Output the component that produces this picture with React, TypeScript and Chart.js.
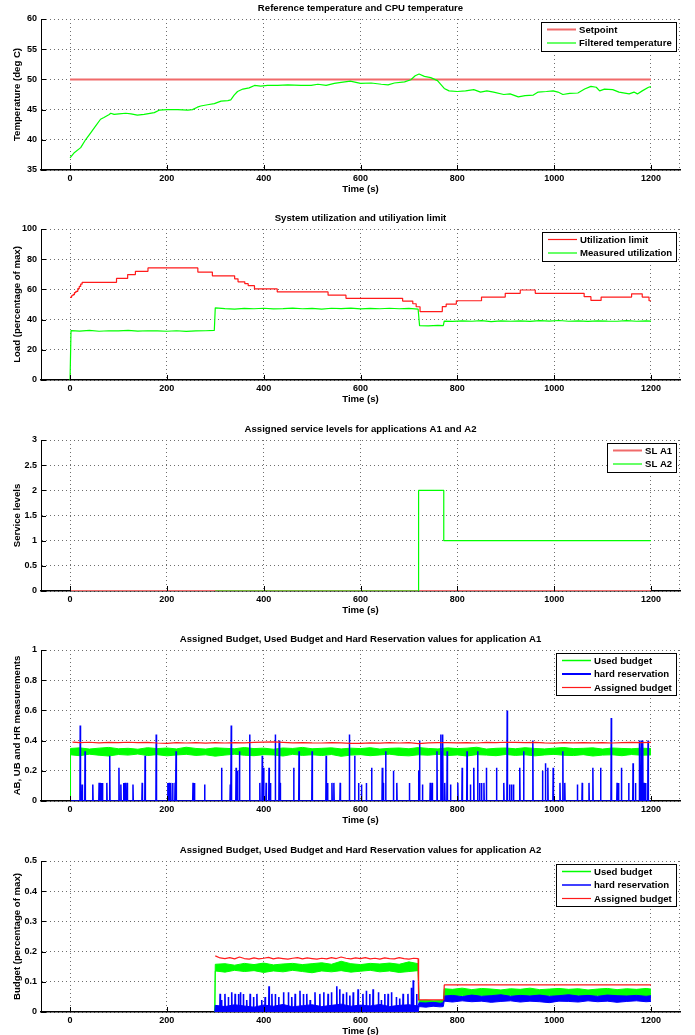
import { useEffect, useRef } from 'react';
import { Chart, registerables } from 'chart.js';

Chart.register(...registerables);

type P2 = [number, number];
type P3 = [number, number, number];

// ---------------- Panel 1: temperature ----------------
const setpoint: P2[] = [[0, 50], [1200, 50]];
const filteredTemperature: P2[] = [
  [0, 37.0], [8, 37.8], [22, 38.7], [32, 40.0], [43, 41.2], [53, 42.3], [63, 43.4], [70, 43.7], [81, 44.2], [84, 44.4],
  [91, 44.2], [101, 44.3], [115, 44.4], [126, 44.3], [139, 44.1], [153, 44.2], [174, 44.5], [184, 44.9], [201, 45.0],
  [222, 45.0], [243, 44.9], [253, 45.0], [263, 45.4], [270, 45.6], [284, 45.8], [298, 46.0], [312, 46.4], [326, 46.5],
  [332, 46.6], [339, 47.4], [346, 48.0], [357, 48.4], [370, 48.6], [381, 49.0], [394, 48.9], [408, 49.0], [429, 49.0],
  [450, 49.1], [477, 49.0], [498, 49.0], [512, 49.2], [529, 49.0], [546, 49.35], [560, 49.5], [579, 49.7], [600, 49.35],
  [622, 49.4], [643, 49.2], [657, 49.1], [670, 49.4], [691, 49.6], [704, 49.95], [713, 50.6], [721, 50.9], [732, 50.5],
  [745, 50.3], [759, 49.8], [773, 48.5], [783, 48.1], [800, 48.0], [817, 48.1], [834, 48.3], [848, 47.9], [861, 48.1],
  [875, 47.9], [896, 47.5], [909, 47.6], [926, 47.1], [940, 47.3], [957, 47.4], [967, 47.9], [984, 48.0], [998, 48.1],
  [1008, 47.9], [1018, 47.5], [1032, 47.7], [1049, 47.75], [1063, 48.4], [1076, 48.85], [1087, 48.7], [1094, 48.1],
  [1104, 48.4], [1121, 48.3], [1134, 47.9], [1155, 47.6], [1165, 47.9], [1172, 47.6], [1182, 48.1], [1195, 48.7], [1200, 48.8],
];

// ---------------- Panel 2: utilization (limit is a step signal) ----------------
const utilizationLimit: P2[] = [
  [0, 54.7], [3, 55.8], [6, 56.5], [9, 57.8], [12, 58.7], [16, 60.5], [19, 62], [22, 63.5], [25, 64.7], [96, 67.3],
  [119, 69.8], [135, 72], [161, 74.2], [264, 71.5], [294, 69], [340, 67], [347, 65], [361, 63.8], [368, 62.5], [381, 60.3],
  [428, 58.3], [533, 56.2], [570, 54.1], [687, 52.3], [708, 50.5], [715, 48.5], [723, 45.3], [769, 48.6], [777, 50.3],
  [798, 52.5], [850, 54.9], [899, 57.4], [930, 59.6], [961, 57.4], [1062, 55.2], [1076, 52.7], [1097, 54.9], [1160, 57.1],
  [1182, 54.9], [1196, 52.5], [1200, 52.5],
];
const measuredUtilization: P2[] = [
  [0, 0], [2, 32.7], [20, 32.4], [40, 32.8], [60, 32.3], [80, 32.6], [100, 32.5], [120, 32.8], [140, 32.4], [160, 32.6],
  [180, 32.5], [200, 32.3], [220, 32.6], [240, 32.2], [260, 32.5], [280, 32.6], [298, 32.8], [300, 47.8], [320, 47.3],
  [340, 47.0], [360, 47.4], [380, 47.2], [400, 47.5], [420, 47.1], [440, 47.3], [460, 47.6], [480, 47.2], [500, 47.4],
  [520, 47.0], [540, 47.5], [560, 47.3], [580, 47.6], [600, 47.1], [620, 47.4], [640, 47.2], [660, 47.5], [680, 47.2],
  [700, 47.4], [719, 47.0], [722, 36.0], [740, 35.8], [760, 36.2], [771, 36.0], [773, 39.0], [790, 38.8], [810, 39.2],
  [830, 38.9], [850, 39.3], [870, 38.7], [890, 39.1], [910, 38.9], [930, 39.2], [950, 38.8], [970, 39.3], [990, 39.0],
  [1010, 39.4], [1030, 38.9], [1050, 39.1], [1070, 38.8], [1090, 39.2], [1110, 39.0], [1130, 38.9], [1150, 39.3],
  [1170, 38.9], [1190, 39.1], [1200, 39.0],
];

// ---------------- Panel 3: service levels (step signals) ----------------
const serviceLevelA1: P2[] = [[0, 0], [1200, 0]];
const serviceLevelA2: P2[] = [[300, 0], [720, 2], [772, 1], [1200, 1]];

// ---------------- Panel 4: application A1 ----------------
// [time, lower edge, upper edge] of the noisy used-budget band
const a1UsedBudget: P3[] = [
  [0, 0, 0], [1, 0.306, 0.348], [20, 0.300, 0.352], [40, 0.310, 0.344], [60, 0.303, 0.350], [80, 0.298, 0.355],
  [100, 0.308, 0.346], [120, 0.304, 0.349], [140, 0.311, 0.343], [160, 0.301, 0.353], [180, 0.307, 0.347],
  [200, 0.299, 0.351], [220, 0.305, 0.345], [240, 0.309, 0.356], [260, 0.302, 0.348], [280, 0.306, 0.344],
  [300, 0.297, 0.352], [320, 0.304, 0.349], [340, 0.310, 0.346], [360, 0.303, 0.354], [380, 0.300, 0.347],
  [400, 0.307, 0.350], [420, 0.305, 0.343], [440, 0.298, 0.351], [460, 0.309, 0.348], [480, 0.302, 0.355],
  [500, 0.306, 0.346], [520, 0.301, 0.349], [540, 0.308, 0.352], [560, 0.296, 0.345], [580, 0.304, 0.350],
  [600, 0.307, 0.347], [620, 0.300, 0.353], [640, 0.305, 0.344], [660, 0.310, 0.349], [680, 0.302, 0.351],
  [700, 0.299, 0.346], [720, 0.306, 0.354], [740, 0.303, 0.348], [760, 0.309, 0.345], [780, 0.301, 0.352],
  [800, 0.305, 0.347], [820, 0.298, 0.350], [840, 0.307, 0.356], [860, 0.304, 0.344], [880, 0.300, 0.349],
  [900, 0.308, 0.351], [920, 0.302, 0.346], [940, 0.306, 0.353], [960, 0.299, 0.348], [980, 0.305, 0.345],
  [1000, 0.309, 0.350], [1020, 0.303, 0.354], [1040, 0.301, 0.347], [1060, 0.307, 0.349], [1080, 0.298, 0.352],
  [1100, 0.304, 0.344], [1120, 0.306, 0.351], [1140, 0.300, 0.348], [1160, 0.308, 0.346], [1180, 0.303, 0.350],
  [1200, 0.305, 0.347],
];
// [time, height] of each hard-reservation spike (zero elsewhere)
const a1HardReservationSpikes: P2[] = [
  [21, 0.5], [25, 0.11], [31, 0.33], [47, 0.11], [60, 0.12], [62, 0.12], [65, 0.12], [67, 0.12], [76, 0.12], [82, 0.3],
  [101, 0.22], [105, 0.11], [111, 0.12], [114, 0.12], [118, 0.12], [130, 0.11], [149, 0.12], [155, 0.3], [178, 0.44],
  [202, 0.12], [205, 0.12], [208, 0.12], [212, 0.12], [217, 0.12], [219, 0.33], [254, 0.12], [257, 0.12], [278, 0.11],
  [313, 0.22], [331, 0.11], [333, 0.5], [343, 0.22], [346, 0.2], [350, 0.33], [371, 0.44], [392, 0.12], [397, 0.3],
  [400, 0.22], [405, 0.12], [411, 0.22], [414, 0.12], [424, 0.44], [432, 0.4], [434, 0.12], [462, 0.22], [473, 0.33],
  [500, 0.33], [529, 0.3], [532, 0.12], [541, 0.12], [545, 0.12], [558, 0.12], [577, 0.44], [588, 0.3], [596, 0.12],
  [602, 0.11], [612, 0.12], [623, 0.22], [645, 0.22], [647, 0.12], [652, 0.33], [668, 0.2], [675, 0.12], [701, 0.12],
  [720, 0.2], [722, 0.4], [728, 0.11], [744, 0.12], [748, 0.12], [758, 0.33], [766, 0.44], [768, 0.33], [770, 0.44],
  [774, 0.12], [779, 0.33], [786, 0.11], [801, 0.12], [810, 0.22], [820, 0.33], [827, 0.11], [834, 0.22], [842, 0.33],
  [846, 0.12], [850, 0.12], [855, 0.12], [860, 0.22], [881, 0.22], [896, 0.12], [903, 0.6], [908, 0.11], [912, 0.11],
  [916, 0.11], [929, 0.22], [937, 0.33], [956, 0.4], [976, 0.2], [982, 0.25], [987, 0.22], [998, 0.22], [1012, 0.12],
  [1018, 0.33], [1022, 0.12], [1048, 0.11], [1058, 0.12], [1072, 0.12], [1080, 0.22], [1096, 0.22], [1118, 0.55],
  [1130, 0.12], [1133, 0.12], [1139, 0.22], [1154, 0.12], [1163, 0.25], [1168, 0.12], [1176, 0.4], [1178, 0.12],
  [1180, 0.4], [1183, 0.4], [1186, 0.12], [1189, 0.12], [1194, 0.4],
];
const a1AssignedBudget: P2[] = [
  [5, 0.39], [20, 0.386], [40, 0.389], [60, 0.385], [80, 0.388], [100, 0.386], [120, 0.389], [140, 0.387], [160, 0.388],
  [180, 0.384], [200, 0.381], [220, 0.386], [240, 0.384], [260, 0.386], [280, 0.383], [300, 0.386], [320, 0.384],
  [340, 0.387], [360, 0.385], [380, 0.388], [400, 0.39], [420, 0.391], [440, 0.388], [460, 0.385], [480, 0.387],
  [500, 0.385], [520, 0.384], [540, 0.386], [560, 0.385], [580, 0.382], [600, 0.381], [620, 0.385], [640, 0.383],
  [660, 0.386], [680, 0.384], [700, 0.386], [720, 0.38], [740, 0.385], [760, 0.387], [780, 0.386], [800, 0.385],
  [820, 0.387], [840, 0.384], [860, 0.388], [880, 0.386], [900, 0.389], [920, 0.388], [940, 0.386], [960, 0.388],
  [980, 0.385], [1000, 0.383], [1020, 0.386], [1040, 0.385], [1060, 0.387], [1080, 0.385], [1100, 0.386], [1120, 0.384],
  [1140, 0.387], [1160, 0.388], [1180, 0.387], [1200, 0.388],
];

// ---------------- Panel 5: application A2 ----------------
const a2UsedBudget: P3[] = [
  [299, 0, 0], [300, 0.136, 0.158], [320, 0.132, 0.160], [340, 0.138, 0.155], [360, 0.134, 0.161], [380, 0.137, 0.157],
  [400, 0.131, 0.162], [420, 0.136, 0.156], [440, 0.133, 0.159], [460, 0.138, 0.161], [480, 0.134, 0.157],
  [500, 0.130, 0.160], [520, 0.136, 0.163], [540, 0.133, 0.158], [560, 0.137, 0.168], [580, 0.132, 0.160],
  [600, 0.135, 0.157], [620, 0.138, 0.161], [640, 0.133, 0.159], [660, 0.136, 0.162], [680, 0.131, 0.158],
  [700, 0.134, 0.166], [719, 0.137, 0.160], [721, 0.029, 0.038], [735, 0.027, 0.039], [750, 0.030, 0.037],
  [765, 0.028, 0.038], [771, 0.029, 0.038], [773, 0.054, 0.077], [790, 0.051, 0.075], [810, 0.055, 0.079],
  [830, 0.052, 0.074], [850, 0.054, 0.078], [870, 0.050, 0.076], [890, 0.053, 0.073], [910, 0.055, 0.077],
  [930, 0.051, 0.075], [950, 0.054, 0.079], [970, 0.052, 0.074], [990, 0.055, 0.076], [1010, 0.050, 0.078],
  [1030, 0.053, 0.075], [1050, 0.054, 0.077], [1070, 0.051, 0.073], [1090, 0.055, 0.076], [1110, 0.052, 0.078],
  [1130, 0.053, 0.074], [1150, 0.050, 0.077], [1170, 0.054, 0.075], [1190, 0.052, 0.078], [1200, 0.053, 0.076],
];
const a2HardReservationBase: P3[] = [
  [299, 0, 0], [300, 0, 0.022], [320, 0, 0.018], [340, 0, 0.024], [360, 0, 0.02], [380, 0, 0.016], [400, 0, 0.023],
  [420, 0, 0.019], [440, 0, 0.025], [460, 0, 0.017], [480, 0, 0.021], [500, 0, 0.024], [520, 0, 0.018], [540, 0, 0.022],
  [560, 0, 0.026], [580, 0, 0.019], [600, 0, 0.023], [620, 0, 0.02], [640, 0, 0.025], [660, 0, 0.018], [680, 0, 0.022],
  [700, 0, 0.024], [719, 0, 0.02], [721, 0.018, 0.031], [735, 0.016, 0.03], [750, 0.019, 0.032], [765, 0.017, 0.029],
  [771, 0.018, 0.031], [773, 0.036, 0.053], [790, 0.033, 0.055], [810, 0.037, 0.051], [830, 0.034, 0.056],
  [850, 0.036, 0.052], [870, 0.032, 0.054], [890, 0.035, 0.057], [910, 0.037, 0.052], [930, 0.033, 0.055],
  [950, 0.036, 0.053], [970, 0.034, 0.056], [990, 0.031, 0.052], [1010, 0.036, 0.054], [1030, 0.035, 0.057],
  [1050, 0.033, 0.053], [1070, 0.037, 0.055], [1090, 0.034, 0.052], [1110, 0.036, 0.056], [1130, 0.032, 0.054],
  [1150, 0.035, 0.053], [1170, 0.037, 0.055], [1190, 0.034, 0.052], [1200, 0.035, 0.054],
];
const a2HardReservationSpikes: P2[] = [
  [310, 0.06], [313, 0.04], [320, 0.06], [327, 0.05], [334, 0.065], [341, 0.06], [348, 0.06], [352, 0.065], [358, 0.06],
  [365, 0.04], [372, 0.06], [379, 0.05], [386, 0.06], [396, 0.04], [403, 0.05], [411, 0.085], [417, 0.06], [424, 0.06],
  [431, 0.05], [441, 0.065], [451, 0.065], [458, 0.05], [465, 0.06], [475, 0.07], [482, 0.06], [489, 0.06], [496, 0.04],
  [506, 0.065], [516, 0.06], [524, 0.065], [533, 0.06], [540, 0.065], [551, 0.085], [557, 0.075], [564, 0.06],
  [571, 0.065], [578, 0.055], [585, 0.065], [595, 0.075], [605, 0.06], [612, 0.07], [619, 0.06], [626, 0.075],
  [637, 0.065], [643, 0.04], [650, 0.06], [657, 0.06], [664, 0.065], [674, 0.05], [681, 0.045], [688, 0.06],
  [698, 0.06], [705, 0.08], [709, 0.105], [716, 0.06],
];
const a2AssignedBudget: P2[] = [
  [300, 0.186], [310, 0.179], [320, 0.177], [330, 0.18], [340, 0.176], [350, 0.182], [360, 0.177], [370, 0.175],
  [380, 0.179], [390, 0.176], [400, 0.178], [410, 0.181], [420, 0.176], [430, 0.179], [440, 0.177], [450, 0.175],
  [460, 0.178], [470, 0.18], [480, 0.176], [490, 0.179], [500, 0.177], [510, 0.175], [520, 0.178], [530, 0.176],
  [540, 0.18], [550, 0.177], [560, 0.182], [570, 0.178], [580, 0.176], [590, 0.179], [600, 0.177], [610, 0.18],
  [620, 0.176], [630, 0.178], [640, 0.175], [650, 0.179], [660, 0.177], [670, 0.176], [680, 0.18], [690, 0.177],
  [700, 0.175], [710, 0.178], [719, 0.177], [720, 0.04], [772, 0.04], [773, 0.0895], [1200, 0.0895],
];

// ---------------- styling ----------------
const FONT = "'Liberation Sans', Arial, Helvetica, sans-serif";
const LABEL_FONT = `bold 9.6px ${FONT}`;
const RED = '#ff1a1a';
const PINK = '#f06a6a';
const GREEN = '#00ff00';
const BLUE = '#0000ff';
const GRID = '#6e6e6e';
const CANVAS_TOPS = [0, 210, 421, 631, 842];

const pts = (arr: P2[]) => arr.map(([x, y]) => ({ x, y }));

function line(label: string, data: any[], color: string, width: number, order: number, extra: any = {}) {
  return {
    type: 'line',
    label,
    data,
    borderColor: color,
    backgroundColor: color,
    borderWidth: width,
    borderJoinStyle: 'bevel',
    pointRadius: 0,
    pointHoverRadius: 0,
    fill: false,
    tension: 0,
    order,
    ...extra,
  };
}

function band(label: string, arr: P3[], color: string, order: number, legendWidth = 1.5) {
  return [
    line('', arr.map(([x, lo]) => ({ x, y: lo })), color, 1, order),
    line(label, arr.map(([x, , hi]) => ({ x, y: hi })), color, 1, order, { fill: '-1', legendWidth }),
  ];
}

function spikes(label: string, list: P2[], start: number, end: number, color: string, width: number, order: number, extra: any = {}) {
  const data: any[] = [{ x: start, y: 0 }];
  for (const [t, h] of list) {
    data.push({ x: t - 0.6, y: 0 }, { x: t, y: h }, { x: t + 0.6, y: 0 });
  }
  data.push({ x: end, y: 0 });
  return line(label, data, color, width, order, extra);
}

const decorPlugin = {
  id: 'decor',
  beforeDatasetsDraw(chart: any) {
    const { ctx, chartArea: ca } = chart;
    ctx.save();
    ctx.strokeStyle = GRID;
    ctx.lineWidth = 1;
    ctx.setLineDash([1, 3]);
    ctx.beginPath();
    ctx.moveTo(Math.round(ca.right) - 0.5, ca.top);
    ctx.lineTo(Math.round(ca.right) - 0.5, ca.bottom);
    ctx.stroke();
    ctx.restore();
  },
  afterDraw(chart: any, _args: any, opts: any) {
    const { ctx, chartArea: ca, scales } = chart;
    ctx.save();
    // inward tick marks
    ctx.strokeStyle = '#000';
    ctx.lineWidth = 1;
    ctx.beginPath();
    for (const t of scales.x.ticks) {
      const x = Math.round(scales.x.getPixelForValue(t.value)) + 0.5;
      ctx.moveTo(x, ca.bottom);
      ctx.lineTo(x, ca.bottom - 5);
    }
    for (const t of scales.y.ticks) {
      const y = Math.round(scales.y.getPixelForValue(t.value)) + 0.5;
      ctx.moveTo(ca.left, y);
      ctx.lineTo(ca.left + 5, y);
    }
    ctx.stroke();

    // titles
    ctx.fillStyle = '#000';
    ctx.font = LABEL_FONT;
    ctx.textAlign = 'center';
    ctx.textBaseline = 'middle';
    const cx = (ca.left + ca.right) / 2;
    ctx.fillText(opts.title, cx, ca.top - 11);
    ctx.fillText(opts.xLabel, cx, ca.bottom + 19);
    ctx.save();
    ctx.translate(17, (ca.top + ca.bottom) / 2);
    ctx.rotate(-Math.PI / 2);
    ctx.fillText(opts.yLabel, 0, 0);
    ctx.restore();

    // legend box
    const items = chart.data.datasets.filter((d: any) => d.label);
    const textW = Math.max(...items.map((d: any) => ctx.measureText(d.label).width));
    const rowH = 13.5;
    const padT = 7.5;
    const boxW = Math.round(37 + textW + 5);
    const boxH = Math.round(padT * 2 + rowH * (items.length - 1));
    const right = Math.round(ca.right) - 4;
    const left = right - boxW;
    const top = Math.round(ca.top) + 3;
    ctx.fillStyle = '#fff';
    ctx.fillRect(left, top, boxW, boxH);
    ctx.strokeStyle = '#000';
    ctx.lineWidth = 1;
    ctx.strokeRect(left + 0.5, top + 0.5, boxW, boxH);
    ctx.textAlign = 'left';
    items.forEach((d: any, i: number) => {
      const y = top + padT + i * rowH;
      ctx.strokeStyle = d.borderColor;
      ctx.lineWidth = d.legendWidth ?? d.borderWidth;
      ctx.beginPath();
      ctx.moveTo(left + 6, y);
      ctx.lineTo(left + 35, y);
      ctx.stroke();
      ctx.fillStyle = '#000';
      ctx.fillText(d.label, left + 38, y + 0.5);
    });
    ctx.restore();
  },
};

function makeConfig(p: any) {
  const tickFont = { family: FONT, size: 9, weight: 'bold' };
  const grid = { color: GRID, lineWidth: 1, drawTicks: false };
  return {
    type: 'line',
    data: { datasets: p.datasets },
    plugins: [decorPlugin],
    options: {
      responsive: false,
      animation: false,
      events: [],
      layout: { padding: { top: 19, right: 15, left: 0, bottom: 0 } },
      plugins: {
        legend: { display: false },
        tooltip: { enabled: false },
        decor: { title: p.title, xLabel: 'Time (s)', yLabel: p.yLabel },
      },
      scales: {
        x: {
          type: 'linear',
          min: -60,
          max: 1260,
          afterFit: (s: any) => { s.height = 41; },
          ticks: {
            stepSize: 200,
            includeBounds: false,
            autoSkip: false,
            maxRotation: 0,
            padding: 3,
            color: '#000',
            font: tickFont,
            callback: (v: any) => String(v),
          },
          grid,
          border: { display: true, color: '#000', width: 1.5, dash: [1, 3] },
        },
        y: {
          type: 'linear',
          min: p.yMin,
          max: p.yMax,
          afterFit: (s: any) => { s.width = 41; },
          ticks: {
            stepSize: p.yStep,
            includeBounds: false,
            autoSkip: false,
            padding: 4,
            color: '#000',
            font: tickFont,
            callback: (v: any) => String(Math.round(v * 1000) / 1000),
          },
          grid,
          border: { display: true, color: '#000', width: 1, dash: [1, 3] },
        },
      },
    },
  };
}

const PANELS = [
  {
    title: 'Reference temperature and CPU temperature',
    yLabel: 'Temperature (deg C)',
    yMin: 35, yMax: 60, yStep: 5,
    datasets: [
      line('Setpoint', pts(setpoint), PINK, 2, 2),
      line('Filtered temperature', pts(filteredTemperature), GREEN, 1.2, 1),
    ],
  },
  {
    title: 'System utilization and utiliyation limit',
    yLabel: 'Load (percentage of max)',
    yMin: 0, yMax: 100, yStep: 20,
    datasets: [
      line('Utilization limit', pts(utilizationLimit), RED, 1.2, 2, { stepped: true }),
      line('Measured utilization', pts(measuredUtilization), GREEN, 1.2, 1),
    ],
  },
  {
    title: 'Assigned service levels for applications A1 and A2',
    yLabel: 'Service levels',
    yMin: 0, yMax: 3, yStep: 0.5,
    datasets: [
      line('SL A1', pts(serviceLevelA1), PINK, 2, 2),
      line('SL A2', pts(serviceLevelA2), GREEN, 1.2, 1, { stepped: true }),
    ],
  },
  {
    title: 'Assigned Budget, Used Budget and Hard Reservation values for application A1',
    yLabel: 'AB, UB and HR measurements',
    yMin: 0, yMax: 1, yStep: 0.2,
    datasets: [
      ...band('Used budget', a1UsedBudget, GREEN, 3),
      spikes('hard reservation', a1HardReservationSpikes, 0, 1200, BLUE, 1.5, 2, { legendWidth: 2 }),
      line('Assigned budget', pts(a1AssignedBudget), RED, 1.2, 1),
    ],
  },
  {
    title: 'Assigned Budget, Used Budget and Hard Reservation values for application A2',
    yLabel: 'Budget (percentage of max)',
    yMin: 0, yMax: 0.5, yStep: 0.1,
    datasets: [
      ...band('Used budget', a2UsedBudget, GREEN, 4),
      ...band('hard reservation', a2HardReservationBase, BLUE, 3),
      spikes('', a2HardReservationSpikes, 300, 720, BLUE, 1.6, 2),
      line('Assigned budget', pts(a2AssignedBudget), RED, 1.2, 1),
    ],
  },
];

export default function App() {
  const refs = useRef<(HTMLCanvasElement | null)[]>([]);

  useEffect(() => {
    Chart.defaults.font.family = FONT;
    const charts = PANELS.map((p, i) => new Chart(refs.current[i] as HTMLCanvasElement, makeConfig(p) as any));
    return () => charts.forEach((c) => c.destroy());
  }, []);

  return (
    <div
      style={{
        position: 'absolute',
        left: 0,
        top: 0,
        width: 695,
        height: 1035,
        overflow: 'hidden',
        background: '#fff',
      }}
    >
      {CANVAS_TOPS.map((top, i) => (
        <canvas
          key={i}
          ref={(el) => { refs.current[i] = el; }}
          width={695}
          height={211}
          style={{ position: 'absolute', left: 0, top, display: 'block' }}
        />
      ))}
    </div>
  );
}
